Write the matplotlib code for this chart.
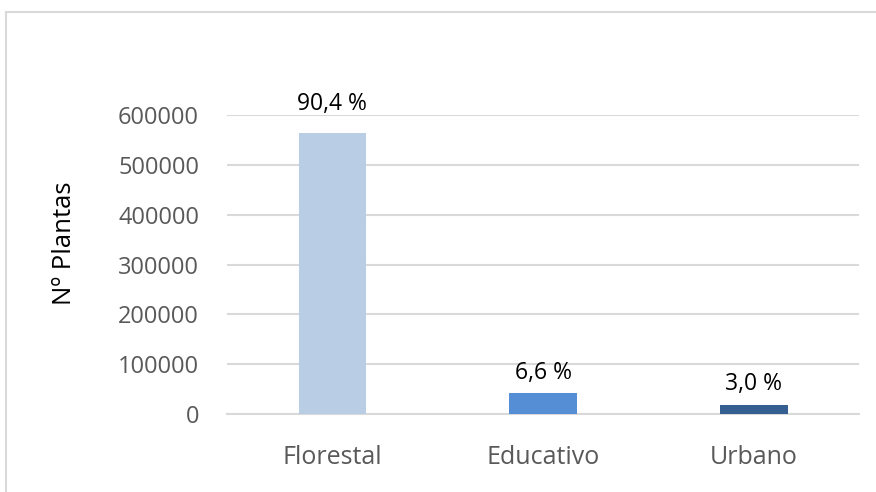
import matplotlib.pyplot as plt
from matplotlib.patches import Rectangle

categories = ['Florestal', 'Educativo', 'Urbano']
plantas = [564000, 41200, 18700]
percent_labels = ['90,4 %', '6,6 %', '3,0 %']
bar_colors = ['#B9CDE5', '#558ED5', '#355F91']
yticks = [0, 100000, 200000, 300000, 400000, 500000, 600000]

plt.rcParams['font.family'] = ['Open Sans', 'DejaVu Sans']

fig = plt.figure(figsize=(8.76, 4.92), dpi=100)
ax = fig.add_axes([0.259, 0.1585, 0.722, 0.6075])

# chart border (cut off at right and bottom in the original)
fig.add_artist(Rectangle((6 / 876, -0.1), 2.0, 1.1 - 12 / 492,
                         transform=fig.transFigure, fill=False,
                         edgecolor='#D9D9D9', linewidth=1.5))

x = range(len(categories))
bars = ax.bar(x, plantas, width=0.32, color=bar_colors, zorder=3)

label_offsets = [12, 6, 6]  # points above bar top
for b, lab, off in zip(bars, percent_labels, label_offsets):
    ax.annotate(lab, (b.get_x() + b.get_width() / 2, b.get_height()),
                xytext=(0, off), textcoords='offset points',
                ha='center', va='bottom', fontsize=16.5, color='black')

ax.set_xlim(-0.5, 2.5)
ax.set_ylim(0, 600000)
ax.set_yticks(yticks)
ax.set_yticklabels([str(t) for t in yticks])
ax.set_xticks(list(x))
ax.set_xticklabels(categories)
ax.tick_params(axis='both', length=0, labelsize=17, labelcolor='#595959')
ax.tick_params(axis='x', labelsize=18, pad=22)
ax.tick_params(axis='y', pad=20)
ax.grid(axis='y', color='#D9D9D9', linewidth=1.5, zorder=0)
for s in ['top', 'right', 'left']:
    ax.spines[s].set_visible(False)
ax.spines['bottom'].set_color('#D9D9D9')
ax.spines['bottom'].set_linewidth(1.5)

ax.set_ylabel('Nº Plantas', fontsize=18.5, color='black')
ax.yaxis.set_label_coords(-0.237, 0.57)

fig.savefig('out.png', dpi=100)
